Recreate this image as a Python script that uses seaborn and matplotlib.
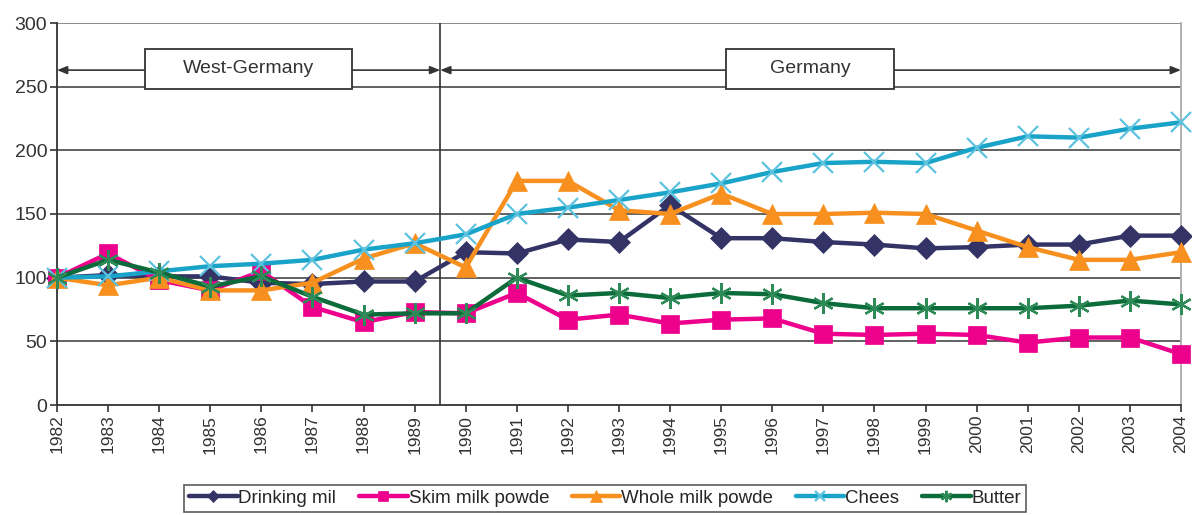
import matplotlib
matplotlib.use("Agg")
import matplotlib.pyplot as plt
import seaborn as sns
import pandas as pd

years = list(range(1982, 2005))
drinking_milk = [100, 102, 101, 101, 96, 95, 97, 97, 120, 119, 130, 128, 157, 131, 131,
                 128, 126, 123, 124, 126, 126, 133, 133]
skim_milk_powder = [100, 119, 98, 90, 105, 77, 65, 73, 72, 88, 67, 71, 64, 67, 68,
                    56, 55, 56, 55, 49, 53, 53, 40]
whole_milk_powder = [100, 94, 100, 90, 90, 96, 115, 127, 108, 176, 176, 153, 150, 166, 150,
                     150, 151, 150, 137, 124, 114, 114, 120]
cheese = [100, 101, 105, 109, 111, 114, 122, 127, 134, 150, 155, 161, 167, 174, 183,
          190, 191, 190, 202, 211, 210, 217, 222]
butter = [100, 114, 104, 93, 101, 85, 71, 72, 72, 100, 86, 88, 84, 88, 87,
          80, 76, 76, 76, 76, 78, 82, 79]

series_names = ["Drinking mil", "Skim milk powde", "Whole milk powde", "Chees", "Butter"]
series_values = [drinking_milk, skim_milk_powder, whole_milk_powder, cheese, butter]
period_labels = ["West-Germany", "Germany"]
y_ticks = [0, 50, 100, 150, 200, 250, 300]

line_colors = ["#333366", "#EC008C", "#F7901E", "#1AA3C8", "#0B6B3A"]
marker_colors = ["#333366", "#EC008C", "#F7901E", "#5BC2E0", "#2E8B57"]
markers = ["D", "s", "^", "x", (6, 2, 0)]
marker_sizes = [11, 13, 15, 14, 15]

sns.set_theme(style="white")
plt.rcParams["font.family"] = ["Liberation Sans", "DejaVu Sans"]

fig = plt.figure(figsize=(11.92, 5.15), dpi=100)
ax = fig.add_axes([57 / 1192, 110 / 515, (1181 - 57) / 1192, 382 / 515])

df = pd.DataFrame({
    "year": years * len(series_names),
    "value": sum(series_values, []),
    "series": sum([[n] * len(years) for n in series_names], []),
})

for i, name in enumerate(series_names):
    sub = df[df["series"] == name]
    sns.lineplot(data=sub, x="year", y="value", ax=ax, color=line_colors[i],
                 linewidth=3.2, marker=markers[i], markersize=marker_sizes[i],
                 markerfacecolor=marker_colors[i], markeredgecolor=marker_colors[i],
                 markeredgewidth=1.6 if i >= 3 else 0.5, label=name, zorder=3 + i,
                 clip_on=False)

ax.set_xlim(1982, 2004)
ax.set_ylim(0, 300)
ax.set_yticks(y_ticks)
ax.set_xticks(years)
ax.set_xticklabels([str(y) for y in years], rotation=90, fontsize=12.5, color="#333333")
ax.set_yticklabels([str(v) for v in y_ticks], fontsize=14, color="#333333")
ax.set_xlabel("")
ax.set_ylabel("")

for v in y_ticks[1:]:
    ax.axhline(v, color="#555555" if v < 300 else "#8a7f7a", linewidth=1.3, zorder=1)
ax.axvline(1989.5, color="#333333", linewidth=1.2, zorder=1)

ax.spines["top"].set_visible(False)
ax.spines["left"].set_color("#333333")
ax.spines["bottom"].set_color("#333333")
ax.spines["right"].set_color("#aaaaaa")
for s in ["left", "bottom", "right"]:
    ax.spines[s].set_linewidth(1.3)
ax.tick_params(axis="both", direction="out", length=5, width=1.2, color="#333333",
               left=True, bottom=True, pad=2)

# Period arrows with labelled boxes
arrow_y = 263
ax.annotate("", xy=(1982, arrow_y), xytext=(1989.5, arrow_y),
            arrowprops=dict(arrowstyle="<|-|>,head_length=0.5,head_width=0.2",
                            color="#333333", lw=1.2, shrinkA=0, shrinkB=0), zorder=2)
ax.annotate("", xy=(1989.5, arrow_y), xytext=(2004, arrow_y),
            arrowprops=dict(arrowstyle="<|-|>,head_length=0.5,head_width=0.2",
                            color="#333333", lw=1.2, shrinkA=0, shrinkB=0), zorder=2)

boxes = [(1983.72, 1987.78), (1995.09, 1998.38)]
for (x0, x1), label in zip(boxes, period_labels):
    ax.add_patch(plt.Rectangle((x0, 248.5), x1 - x0, 31, facecolor="white",
                               edgecolor="#333333", linewidth=1.3, zorder=2.5))
    ax.text((x0 + x1) / 2, 264, label, ha="center", va="center", fontsize=14,
            color="#333333", zorder=2.6)

handles, labels = ax.get_legend_handles_labels()
leg = fig.legend(handles, labels, loc="upper center", bbox_to_anchor=(605 / 1192, 30 / 515),
                 ncol=5, frameon=True, fontsize=13.5, handlelength=2.6, handletextpad=0.05,
                 columnspacing=1.2, borderpad=0.25, borderaxespad=0, fancybox=False,
                 markerscale=0.55)
leg.get_frame().set_edgecolor("#333333")
leg.get_frame().set_linewidth(1.2)
if ax.get_legend() is not None:
    ax.get_legend().remove()

fig.savefig("out.png", dpi=100)
